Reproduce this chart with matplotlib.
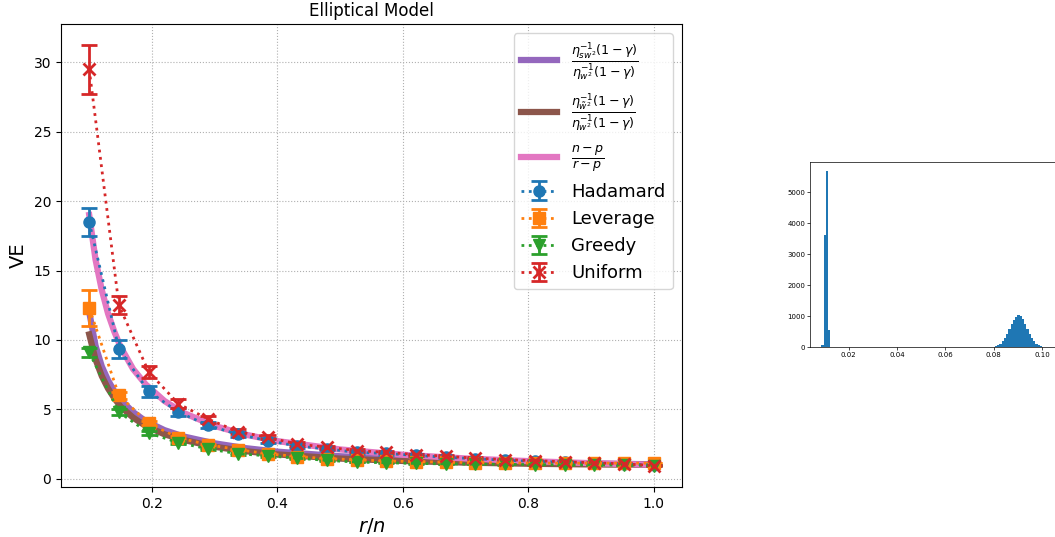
import numpy as np
import matplotlib.pyplot as plt

# --- données ---
r_sur_n = np.linspace(0.1, 1.0, 20)

hadamard = [18.5, 9.35, 6.3, 4.8, 3.85, 3.2, 2.75, 2.35, 2.15, 1.9,
            1.82, 1.68, 1.55, 1.44, 1.33, 1.25, 1.19, 1.12, 1.05, 1.0]
hadamard_err = [1.0, 0.65, 0.4, 0.28, 0.22, 0.18, 0.15, 0.12, 0.1, 0.09,
                0.08, 0.07, 0.06, 0.05, 0.05, 0.04, 0.04, 0.03, 0.03, 0.02]

leverage = [12.3, 6.0, 4.0, 2.95, 2.45, 2.1, 1.8, 1.6, 1.45, 1.36,
            1.28, 1.23, 1.19, 1.16, 1.14, 1.13, 1.12, 1.12, 1.12, 1.12]
leverage_err = [1.3, 0.25, 0.15, 0.1, 0.08, 0.06, 0.05, 0.04, 0.04, 0.03,
                0.03, 0.03, 0.02, 0.02, 0.02, 0.02, 0.02, 0.02, 0.02, 0.02]

greedy = [9.1, 4.8, 3.3, 2.6, 2.15, 1.8, 1.65, 1.48, 1.32, 1.2,
          1.15, 1.1, 1.07, 1.05, 1.03, 1.02, 1.0, 1.0, 0.98, 0.95]
greedy_err = [0.35, 0.2, 0.15, 0.1, 0.08, 0.06, 0.05, 0.04, 0.04, 0.03,
              0.03, 0.03, 0.02, 0.02, 0.02, 0.02, 0.02, 0.02, 0.02, 0.02]

uniform = [29.5, 12.5, 7.7, 5.4, 4.3, 3.4, 2.98, 2.5, 2.27, 2.03,
           1.9, 1.74, 1.62, 1.48, 1.38, 1.3, 1.22, 1.15, 1.07, 0.95]
uniform_err = [1.75, 0.65, 0.45, 0.32, 0.25, 0.2, 0.15, 0.12, 0.1, 0.09,
               0.08, 0.07, 0.06, 0.05, 0.05, 0.04, 0.04, 0.03, 0.03, 0.03]

# courbes théoriques
x_theo = [0.1, 0.11, 0.12, 0.13, 0.14, 0.15, 0.17, 0.19, 0.22, 0.25,
          0.3, 0.35, 0.4, 0.5, 0.6, 0.7, 0.8, 0.9, 1.0]
theo_sw = [12.0, 9.6, 8.1, 7.1, 6.3, 5.7, 4.8, 4.15, 3.5, 3.05,
           2.55, 2.2, 1.95, 1.62, 1.42, 1.28, 1.18, 1.1, 1.04]
theo_wt = [10.4, 8.6, 7.4, 6.5, 5.8, 5.2, 4.4, 3.8, 3.2, 2.8,
           2.3, 1.98, 1.75, 1.45, 1.28, 1.16, 1.08, 1.03, 1.0]
theo_np = [19.0, 15.8, 13.6, 11.9, 10.6, 9.5, 7.9, 6.8, 5.6, 4.75,
           3.8, 3.17, 2.71, 2.11, 1.73, 1.46, 1.27, 1.12, 1.0]

# histogramme (encart)
hist_lo, hist_hi = 0.0087, 0.1020
hist_counts = [80, 3620, 5700, 550] + [0] * 70 + [
    3, 7, 16, 32, 62, 112, 189, 296, 433, 592, 754, 880, 960, 1030,
    990, 900, 760, 590, 430, 300, 190, 110, 60, 30, 15, 6]

fig = plt.figure(figsize=(10.55, 5.37), dpi=100)
ax = fig.add_axes([61 / 1055, 50 / 537, 621 / 1055, 463 / 537])

ax.plot(x_theo, theo_sw, color="tab:purple", linewidth=4.5,
        label=r"$\frac{\eta_{sw^2}^{-1}(1-\gamma)}{\eta_{w^2}^{-1}(1-\gamma)}$")
ax.plot(x_theo, theo_wt, color="tab:brown", linewidth=4.5,
        label=r"$\frac{\eta_{\tilde{w}^2}^{-1}(1-\gamma)}{\eta_{w^2}^{-1}(1-\gamma)}$")
ax.plot(x_theo, theo_np, color="tab:pink", linewidth=4.5,
        label=r"$\frac{n-p}{r-p}$")

style = dict(linestyle=":", linewidth=2, markersize=8, capsize=6,
             elinewidth=2, capthick=2)
ax.errorbar(r_sur_n, hadamard, yerr=hadamard_err, marker="o", color="tab:blue",
            label="Hadamard", **style)
ax.errorbar(r_sur_n, leverage, yerr=leverage_err, marker="s", color="tab:orange",
            label="Leverage", **style)
ax.errorbar(r_sur_n, greedy, yerr=greedy_err, marker="v", color="tab:green",
            label="Greedy", **style)
ax.errorbar(r_sur_n, uniform, yerr=uniform_err, marker="x", color="tab:red",
            markeredgewidth=2, label="Uniform", **style)

ax.set_title("Elliptical Model")
ax.set_xlabel(r"$r/n$", fontsize=14)
ax.set_ylabel("VE", fontsize=14)
ax.grid(True, linestyle=":")
ax.legend(loc="upper right", fontsize=13)

# --- encart : histogramme ---
ins = fig.add_axes([810 / 1055, 190 / 537, 248 / 1055, 185 / 537])
edges = np.linspace(hist_lo, hist_hi, len(hist_counts) + 1)
ins.stairs(hist_counts, edges, fill=True, color="tab:blue")
ins.set_xticks([0.02, 0.04, 0.06, 0.08, 0.10])
ins.tick_params(labelsize=5, length=2, width=0.5, pad=1.5)
for s in ins.spines.values():
    s.set_linewidth(0.5)
ins.margins(x=0.05, y=0.05)
ins.set_ylim(bottom=0)

fig.savefig("out.png", dpi=100)
